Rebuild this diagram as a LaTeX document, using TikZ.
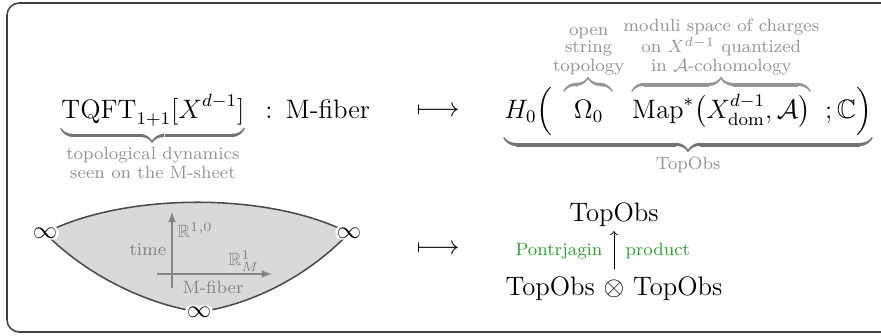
\documentclass[12pt,tikz,border=0pt]{standalone}
\usepackage{amsmath,amssymb,mathtools}
\usetikzlibrary{positioning}

\definecolor{notegray}{gray}{0.58}
\definecolor{bracegray}{gray}{0.45}
\definecolor{framegray}{gray}{0.25}
\definecolor{lensfill}{gray}{0.85}
\definecolor{lensline}{gray}{0.3}
\definecolor{axisgray}{gray}{0.52}
\definecolor{pgreen}{RGB}{50,160,50}

% gray braces with gray notes, black content
\newcommand{\obrace}[2]{{\color{bracegray}\overbrace{\color{black}#1}^{\color{notegray}\mathclap{\substack{#2}}}}}
\newcommand{\ubrace}[2]{{\color{bracegray}\underbrace{\color{black}#1}_{\color{notegray}\substack{#2}}}}
\newcommand{\mapstrut}{\vphantom{\mathrm{Map}^*\bigl(X^{d-1}_{\mathrm{dom}}\bigr)}}

\begin{document}
\begin{tikzpicture}[x=0.45pt, y=-0.45pt,
    every node/.style={inner sep=0pt},
    axis/.style={axisgray, line width=0.6pt, -latex},
    axlabel/.style={text=axisgray, font=\scriptsize},
    inf/.style={fill=white, rounded corners=2pt, inner sep=0.6pt, font=\small},
    greenlabel/.style={text=pgreen, font=\scriptsize}]
    \useasboundingbox (0,0) rectangle (881,335);

    % Frame
    \draw[framegray, line width=0.7pt, rounded corners=5.5pt] (7,3) rectangle (900,332);

    % Top row
    \node[anchor=base west] (tqft) at (61,118)
        {$\ubrace{\mathrm{TQFT}_{1+1}[X^{d-1}]}{\text{topological dynamics}\\ \text{seen on the M-sheet}}$};
    \node[anchor=base west] (fiber) at ([xshift=9pt]tqft.base east) {$:$\enspace M-fiber};
    \node (mapA) at (438,112) {$\longmapsto$};
    \node[anchor=base west] (obs) at (504,118)
        {$\ubrace{H_0\Big(\;\,\obrace{\kern4.3pt\Omega_0\mapstrut\kern4.3pt}{\text{open}\\ \text{string}\\ \text{topology}}\;\;\,
        \obrace{\mathrm{Map}^*\bigl(X^{d-1}_{\mathrm{dom}},\mathcal{A}\bigr)}{\text{moduli space of charges}\\ \text{on $X^{d-1}$ quantized}\\ \text{in $\mathcal{A}$-cohomology}}
        \;\;;\mathbb{C}\Big)}{\text{TopObs}}$};

    % M-sheet
    \path[fill=lensfill, draw=lensline, line width=0.7pt]
        (45,233) .. controls (125,192) and (270,192) .. (349,233)
        .. controls (310,274) and (255,304) .. (199,312)
        .. controls (145,304) and (85,274) .. (45,233) -- cycle;
    \draw[axis] (172,288) -- (172,212);
    \draw[axis] (157,274) -- (272,274);
    \node[axlabel] (rtime) at (195,230) {$\mathbb{R}^{1,0}$};
    \node[axlabel] (time) at (148,250) {time};
    \node[axlabel] (rfib) at (244,261) {$\mathbb{R}^1_M$};
    \node[axlabel] (mfib) at (213,287) {M-fiber};
    \node[inf] (infL) at (45,233) {$\infty$};
    \node[inf] (infR) at (349,233) {$\infty$};
    \node[inf] (infB) at (199,312) {$\infty$};

    % Bottom row
    \node (mapB) at (438,250) {$\longmapsto$};
    \node[anchor=base] (top) at (614,221) {TopObs};
    \node[anchor=base] (pair) at (614,295) {TopObs $\otimes$ TopObs};
    \draw[->, shorten <=3pt, shorten >=2pt] (pair) -- (top)
        node[midway, left=5pt, greenlabel] {Pontrjagin}
        node[midway, right=5pt, greenlabel] {product};
\end{tikzpicture}
\end{document}
